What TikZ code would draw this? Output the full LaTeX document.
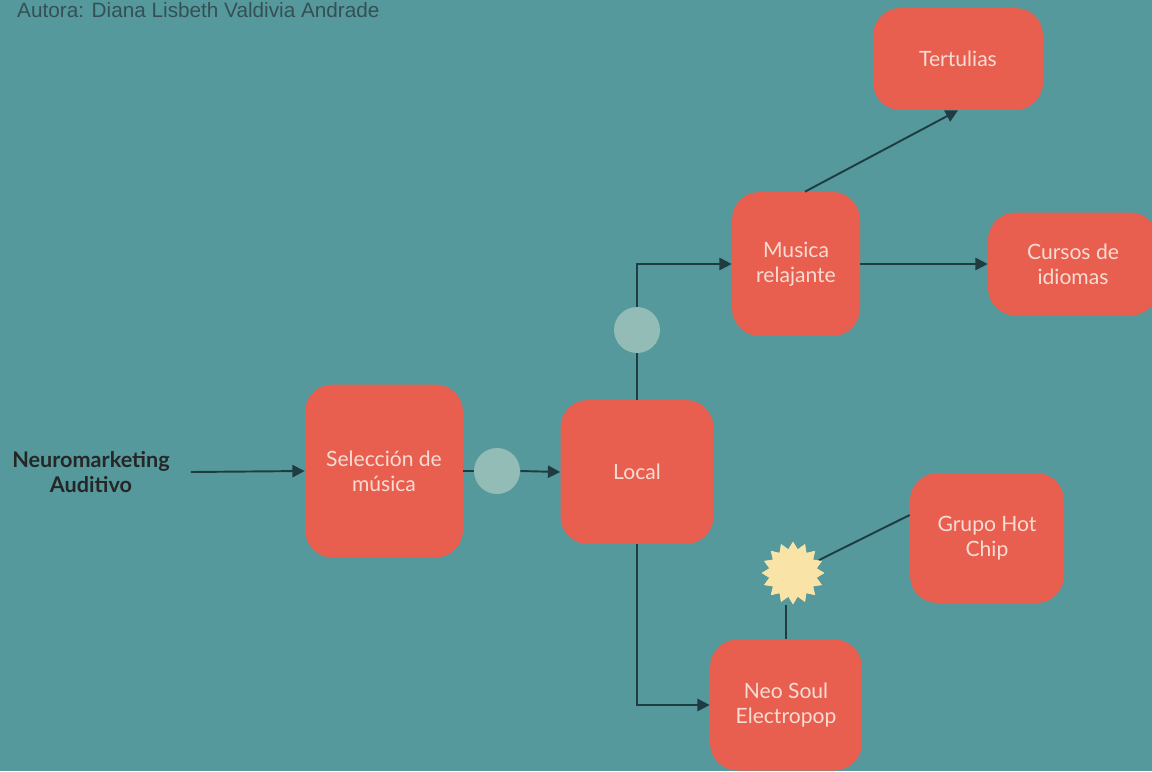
\documentclass[tikz,border=0pt]{standalone}
\usepackage{fontspec}
\setmainfont{Lato}
\newfontfamily\authorfont{Liberation Sans}
\usepackage{xcolor}
\usetikzlibrary{shapes.geometric,arrows.meta}

\definecolor{bgteal}{HTML}{55999C}
\definecolor{boxred}{HTML}{E95F4F}
\definecolor{boxtext}{HTML}{F7DCD3}
\definecolor{linedark}{HTML}{1E3C42}
\definecolor{dotgray}{HTML}{93BCB6}
\definecolor{starpale}{HTML}{F9E3A6}

\begin{document}
\begin{tikzpicture}[
    x=0.02cm, y=-0.02cm,
    every node/.style={font=\fontsize{12}{14.4}\selectfont},
    box/.style={
        fill=boxred,
        rounded corners=0.55cm,
        text=boxtext,
        align=center,
        inner sep=3pt
    },
    dot/.style={circle, fill=dotgray, minimum size=0.92cm, inner sep=0pt},
    burst/.style={star, star points=16, star point ratio=1.3,
        fill=starpale, minimum size=1.25cm, inner sep=0pt},
    link/.style={draw=linedark, line width=1.1pt},
    arrow/.style={link, -{Triangle[length=7pt, width=7pt]}}
]

%% ── Background and frame ──────────────────────────────
\fill[bgteal] (0,0) rectangle (1152,771);
\clip (0,0) rectangle (1152,771);

\node[anchor=base west, text=linedark!90, font=\authorfont\fontsize{11.8}{14}\selectfont]
    (author) at (11,17) {Autora: Diana Lisbeth Valdivia Andrade};

%% ── Boxes ─────────────────────────────────────────────
\node[align=center, text=black!85, font=\bfseries\fontsize{12.3}{14.4}\selectfont]
    (neuro) at (91,472) {Neuromarketing\\Auditivo};
\node[box, minimum width=3.16cm, minimum height=3.46cm] (sel) at (384,471)
    {Selección de\\música};
\node[box, minimum width=3.06cm, minimum height=2.88cm] (local) at (637,472) {Local};
\node[box, minimum width=2.56cm, minimum height=2.88cm] (musica) at (796,264)
    {Musica\\relajante};
\node[box, minimum width=3.4cm, minimum height=2.04cm] (tert) at (958,59) {Tertulias};
\node[box, minimum width=3.4cm, minimum height=2.06cm] (cursos) at (1073,264)
    {Cursos de\\idiomas};
\node[box, minimum width=3.08cm, minimum height=2.6cm] (hot) at (987,538)
    {Grupo Hot\\Chip};
\node[box, minimum width=3.04cm, minimum height=2.62cm] (neo) at (786,705)
    {Neo Soul\\Electropop};

%% ── Markers ───────────────────────────────────────────
\node[dot] (dot1) at (497,471) {};
\node[dot] (dot2) at (637,330) {};
\node[burst] (spark) at (793,573) {};

%% ── Connectors ────────────────────────────────────────
\draw[arrow] (neuro.east) ++(0.3cm,0) coordinate (neurostart)
    (neurostart) -- (sel.west);
\draw[link] (sel.east) -- (dot1.west);
\draw[arrow] (dot1.east) -- (local.west);
\draw[link] (local.north) -- (dot2.south);
\draw[arrow] (dot2.north) |- (musica.west);
\draw[arrow] (local.south) |- (neo.west);
\draw[arrow] ([xshift=0.18cm]musica.north) -- (tert.south);
\draw[arrow] (musica.east) -- (cursos.west);
\draw[link] (neo.north) -- (neo.north |- spark.south);
\draw[link] (spark) -- ([yshift=0.46cm]hot.west);

\node[burst] at (spark) {};

\end{tikzpicture}
\end{document}
